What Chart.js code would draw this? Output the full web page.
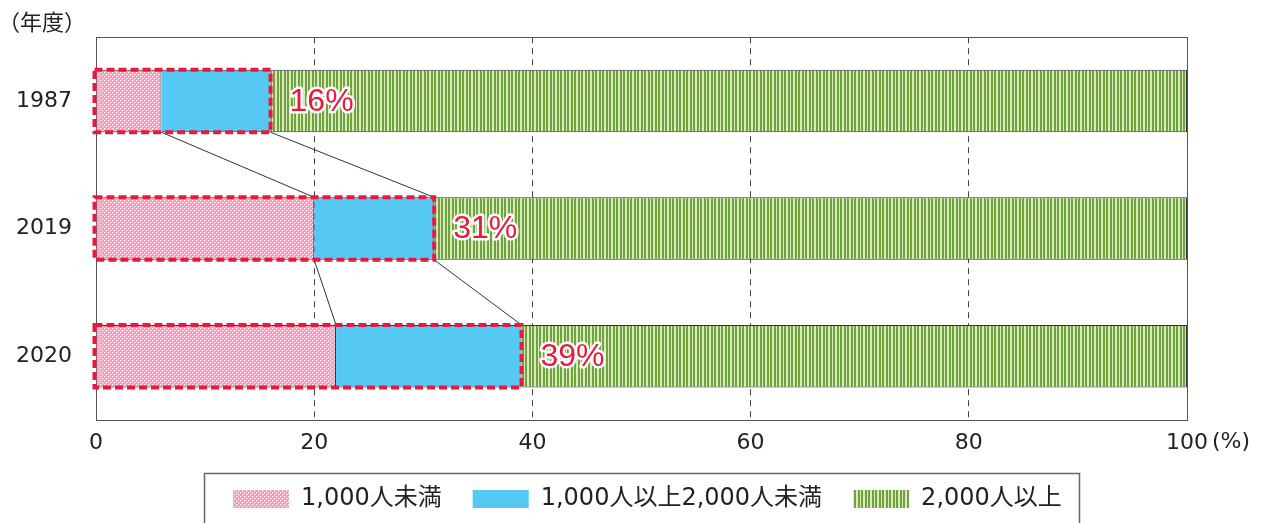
<!DOCTYPE html>
<html>
<head>
<meta charset="utf-8">
<style>
  html, body { margin: 0; padding: 0; background: #fff; }
  #wrap { width: 1264px; height: 523px; }
</style>
<script src="https://cdn.jsdelivr.net/npm/chart.js@4/dist/chart.umd.min.js"></script>
</head>
<body>
<div id="wrap"><canvas id="c" width="1264" height="523"></canvas></div>
<script>
// Fiscal years (category axis)
const years = ['1987', '2019', '2020'];
// Share of pharmacies by annual prescription count (%)
const under1000 = [6, 20, 22];
const from1000to2000 = [10, 11, 17];
const over2000 = [84, 69, 61];
// Series names
const seriesNames = ['1,000人未満', '1,000人以上2,000人未満', '2,000人以上'];
// Value axis ticks
const xTicks = [0, 20, 40, 60, 80, 100];

const FONT = "'DejaVu Sans', 'Noto Sans CJK JP', sans-serif";
const RED = '#e8193f';
const INK = '#222';

// Pink tile with light dots on a diagonal grid
function dotPattern() {
  const t = document.createElement('canvas');
  t.width = 4; t.height = 4;
  const g = t.getContext('2d');
  g.fillStyle = '#f39bba';
  g.fillRect(0, 0, 4, 4);
  g.fillStyle = '#f8c4d6';
  g.fillRect(1, 0, 1, 1); g.fillRect(0, 1, 1, 1);
  g.fillRect(3, 2, 1, 1); g.fillRect(2, 3, 1, 1);
  g.fillStyle = '#ffeef4';
  g.fillRect(0, 0, 1, 1);
  g.fillRect(2, 2, 1, 1);
  return g.createPattern(t, 'repeat');
}

// Green vertical stripes
function stripePattern() {
  const t = document.createElement('canvas');
  t.width = 7; t.height = 4;
  const g = t.getContext('2d');
  g.fillStyle = '#d9eabb';
  g.fillRect(0, 0, 7, 4);
  g.fillStyle = '#71a240';
  g.fillRect(0, 0, 2, 4);
  g.fillRect(4, 0, 2, 4);
  return g.createPattern(t, 'repeat');
}

// Solid frame around the plotting area
const framePlugin = {
  id: 'frame',
  beforeDatasetsDraw(chart) {
    const { ctx, chartArea: a } = chart;
    ctx.save();
    ctx.strokeStyle = '#555';
    ctx.lineWidth = 1;
    ctx.strokeRect(Math.round(a.left) + 0.5, Math.round(a.top) + 0.5,
      Math.round(a.right - a.left), Math.round(a.bottom - a.top));
    ctx.restore();
  }
};

// Connector lines between years, dashed highlight boxes and cumulative labels
const highlightPlugin = {
  id: 'highlight',
  afterDatasetsDraw(chart) {
    const { ctx } = chart;
    const m0 = chart.getDatasetMeta(0).data;
    const m1 = chart.getDatasetMeta(1).data;
    ctx.save();

    // connector lines
    ctx.strokeStyle = '#333';
    ctx.lineWidth = 1;
    for (let i = 0; i < years.length - 1; i++) {
      for (const m of [m0, m1]) {
        const a = m[i], b = m[i + 1];
        ctx.beginPath();
        ctx.moveTo(a.x, a.y + a.height / 2);
        ctx.lineTo(b.x, b.y - b.height / 2);
        ctx.stroke();
      }
    }

    // dashed boxes around the two smaller groups
    ctx.strokeStyle = RED;
    ctx.lineWidth = 4;
    ctx.setLineDash([8, 4]);
    for (let i = 0; i < years.length; i++) {
      const a = m0[i], b = m1[i];
      const x0 = a.base - 2, x1 = b.x;
      const y0 = a.y - a.height / 2, y1 = a.y + a.height / 2;
      ctx.strokeRect(x0, y0, x1 - x0, y1 - y0);
    }
    ctx.setLineDash([]);

    // cumulative share labels
    ctx.font = "32px 'Liberation Sans', 'DejaVu Sans', sans-serif";
    ctx.textAlign = 'left';
    ctx.textBaseline = 'middle';
    ctx.lineJoin = 'round';
    for (let i = 0; i < years.length; i++) {
      const b = m1[i];
      const txt = (under1000[i] + from1000to2000[i]) + '%';
      const x = b.x + 19, y = b.y + 1;
      ctx.strokeStyle = '#fff';
      ctx.lineWidth = 5;
      ctx.strokeText(txt, x, y);
      ctx.fillStyle = RED;
      ctx.fillText(txt, x, y);
    }
    ctx.restore();
  }
};

// Place the legend row and keep it on one line
const legendPlacePlugin = {
  id: 'legendPlace',
  afterLayout(chart) {
    const lg = chart.legend;
    if (!lg) return;
    const pad = lg.options.labels.padding;
    lg.left = 233 - pad;
    lg.right = chart.width + 300;
  }
};

// Axis captions and legend border
const decorPlugin = {
  id: 'decor',
  afterDraw(chart) {
    const { ctx, chartArea: a } = chart;
    const xs = chart.scales.x;
    ctx.save();
    ctx.fillStyle = INK;
    ctx.textBaseline = 'middle';
    ctx.font = "22px 'Noto Sans CJK JP', sans-serif";
    ctx.textAlign = 'left';
    ctx.fillText('（年度）', -2, 22);

    ctx.font = '22px ' + FONT;
    ctx.fillText('(%)', xs.getPixelForValue(100) + 25, a.bottom + 22);

    // legend frame
    const lg = chart.legend;
    if (lg && lg.lineWidths && lg.lineWidths.length) {
      const pad = lg.options.labels.padding;
      const startX = lg.left + pad;
      const endX = startX + lg.lineWidths[0] - pad;
      ctx.strokeStyle = '#666';
      ctx.lineWidth = 1.5;
      ctx.strokeRect(Math.round(startX - 29) + 0.5, 473.5, Math.round(endX - startX + 46), 80);
    }
    ctx.restore();
  }
};

const ctx = document.getElementById('c').getContext('2d');
new Chart(ctx, {
  type: 'bar',
  data: {
    labels: years,
    datasets: [
      { label: seriesNames[0], data: under1000, backgroundColor: dotPattern() },
      { label: seriesNames[1], data: from1000to2000, backgroundColor: '#55c8f3' },
      { label: seriesNames[2], data: over2000, backgroundColor: stripePattern() }
    ]
  },
  options: {
    indexAxis: 'y',
    responsive: false,
    animation: false,
    devicePixelRatio: 1,
    datasets: {
      bar: {
        borderColor: '#333',
        borderWidth: 1,
        barPercentage: 0.49,
        categoryPercentage: 1
      }
    },
    layout: { padding: { top: 37, right: 77, bottom: 2, left: 0 } },
    scales: {
      x: {
        stacked: true,
        min: 0,
        max: 100,
        afterBuildTicks(scale) { scale.ticks = xTicks.map(v => ({ value: v })); },
        afterFit(scale) { scale.height = 36; },
        grid: {
          drawTicks: false,
          color: c => (c.tick && (c.tick.value === 0 || c.tick.value === 100)) ? 'rgba(0,0,0,0)' : '#444',
          lineWidth: 1
        },
        border: { display: false, dash: [6, 5] },
        ticks: { color: INK, font: { family: FONT, size: 22 }, padding: 10 }
      },
      y: {
        stacked: true,
        afterFit(scale) { scale.width = 96; },
        grid: { display: false, drawTicks: false },
        border: { display: false },
        ticks: { color: INK, font: { family: FONT, size: 22 }, padding: 24 }
      }
    },
    plugins: {
      tooltip: { enabled: false },
      legend: {
        position: 'bottom',
        align: 'start',
        labels: {
          color: INK,
          font: { family: FONT, size: 24 },
          boxWidth: 56,
          boxHeight: 18,
          padding: 31,
          generateLabels(chart) {
            return Chart.defaults.plugins.legend.labels.generateLabels(chart)
              .map(l => Object.assign(l, { lineWidth: 0, strokeStyle: 'rgba(0,0,0,0)' }));
          }
        }
      }
    }
  },
  plugins: [framePlugin, highlightPlugin, legendPlacePlugin, decorPlugin]
});
</script>
</body>
</html>
